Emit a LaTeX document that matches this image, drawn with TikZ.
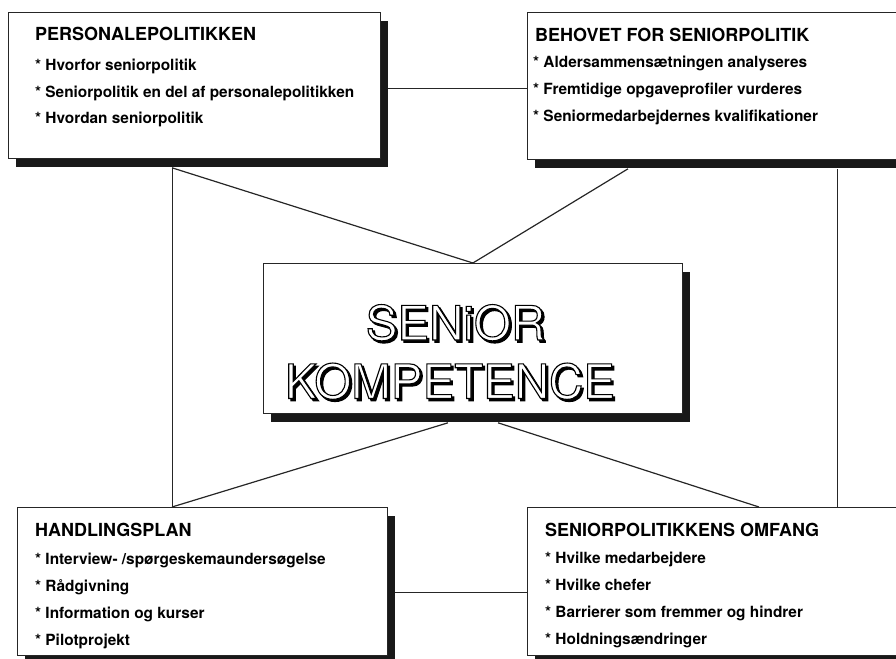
\documentclass[tikz,border=0pt]{standalone}
\usepackage{fontspec}
\setmainfont{TeX Gyre Heros}
\usetikzlibrary{calc, shadows, backgrounds}

% white letters with a black rim and a black offset copy behind
\newcommand{\hollowtext}[1]{%
  \rlap{\kern2.2pt\raisebox{-2.2pt}{\special{pdf:literal direct 2 Tr 1.1 w 0 G}#1\special{pdf:literal direct 0 Tr}}}%
  {\color{white}\special{pdf:literal direct 2 Tr 1.1 w 0 G}#1\special{pdf:literal direct 0 Tr}}}

\begin{document}
\begin{tikzpicture}[
    x=1pt, y=-1pt,
    box/.style={
        rectangle,
        draw=black!85,
        line width=0.8pt,
        fill=white,
        anchor=north west,
        inner sep=0pt,
        drop shadow={shadow xshift=8pt, shadow yshift=-9pt, opacity=1, fill=black!90}
    },
    boxtitle/.style={
        anchor=base west,
        inner sep=0pt,
        font=\fontsize{18}{20}\selectfont\bfseries
    },
    boxitem/.style={
        anchor=base west,
        inner sep=0pt,
        font=\fontsize{15.4}{18}\selectfont\bfseries
    },
    bigword/.style={
        anchor=base,
        inner sep=0pt,
        font=\fontsize{47.5}{50}\selectfont
    },
    link/.style={draw=black!85, line width=0.8pt},
    slant/.style={link, line width=1.2pt}
]

\useasboundingbox (0,0) rectangle (896,658);
\clip (0,0) rectangle (896,658);

% Boxes
\node[box, minimum width=372pt, minimum height=146pt] (pp) at (8,12) {};
\node[box, minimum width=393pt, minimum height=147pt] (bf) at (527,12) {};
\node[box, minimum width=419pt, minimum height=150pt] (sk) at (263,263) {};
\node[box, minimum width=370pt, minimum height=148pt] (hp) at (17,507) {};
\node[box, minimum width=393pt, minimum height=148pt] (so) at (527,507) {};

% Personalepolitikken
\node[boxtitle] (pp-title) at ($(pp.north west)+(27,28.5)$) {PERSONALEPOLITIKKEN};
\foreach \txt [count=\i] in {* Hvorfor seniorpolitik, * Seniorpolitik en del af personalepolitikken, * Hvordan seniorpolitik}
    \node[boxitem] (pp-item\i) at ($(pp-title.base west)+(0,{30.5+(\i-1)*26.5})$) {\txt};

% Behovet for seniorpolitik
\node[boxtitle] (bf-title) at ($(bf.north west)+(8,29.5)$) {BEHOVET FOR SENIORPOLITIK};
\foreach \txt [count=\i] in {* Aldersammensætningen analyseres, * Fremtidige opgaveprofiler vurderes, * Seniormedarbejdernes kvalifikationer}
    \node[boxitem] (bf-item\i) at ($(bf-title.base west)+(-2,{26.5+(\i-1)*26.7})$) {\txt};

% Handlingsplan
\node[boxtitle] (hp-title) at ($(hp.north west)+(18,29.7)$) {HANDLINGSPLAN};
\foreach \txt [count=\i] in {* Interview- /spørgeskemaundersøgelse, * Rådgivning, * Information og kurser, * Pilotprojekt}
    \node[boxitem] (hp-item\i) at ($(hp-title.base west)+(0,{27.3+(\i-1)*27})$) {\txt};

% Seniorpolitikkens omfang
\node[boxtitle] (so-title) at ($(so.north west)+(18,29)$) {SENIORPOLITIKKENS OMFANG};
\foreach \txt [count=\i] in {* Hvilke medarbejdere, * Hvilke chefer, * Barrierer som fremmer og hindrer, * Holdningsændringer}
    \node[boxitem] (so-item\i) at ($(so-title.base west)+(0,{27+(\i-1)*27.3})$) {\txt};

% Centre
\node[bigword] (senior) at (455.5,340) {\hollowtext{SENiOR}};
\node[bigword] (kompetence) at (450,398.5) {\hollowtext{KOMPETENCE}};

% Attachment points
\coordinate (pp-side) at ($(pp.north east)+(0,76)$);
\coordinate (hp-side) at ($(hp.north east)+(0,85)$);
\coordinate (pp-foot) at ($(pp.south west)+(164,9)$);
\coordinate (bf-foot-l) at ($(bf.south west)+(101,9)$);
\coordinate (bf-foot-r) at ($(bf.south west)+(310,9)$);
\coordinate (sk-foot-l) at ($(sk.south west)+(185,9)$);
\coordinate (sk-foot-r) at ($(sk.south west)+(235,9)$);
\coordinate (hp-head) at ($(hp.north west)+(155,0)$);
\coordinate (so-head-l) at ($(so.north west)+(232,0)$);
\coordinate (so-head-r) at ($(so.north west)+(310,0)$);

% Connectors
\begin{scope}[on background layer]
\draw[link] (pp-side) -- (pp-side -| bf.west);
\draw[link] (hp-side) -- (hp-side -| so.west);
\draw[link] (pp-foot) -- (hp-head);
\draw[link] (bf-foot-r) -- (so-head-r);
\draw[slant] (pp-foot) -- (sk.north) -- (bf-foot-l);
\draw[slant] (hp-head) -- (sk-foot-l);
\draw[slant] (sk-foot-r) -- (so-head-l);
\end{scope}

\end{tikzpicture}
\end{document}
